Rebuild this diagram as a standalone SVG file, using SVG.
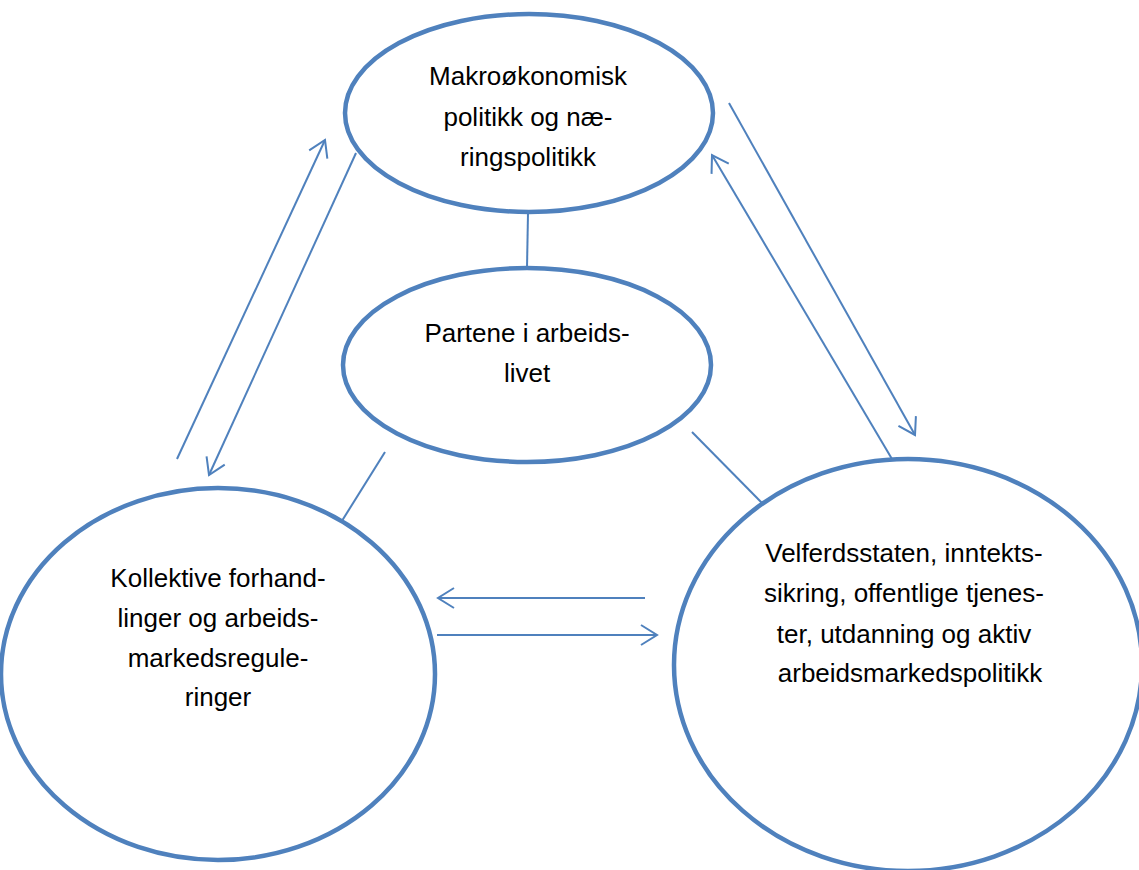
<svg xmlns="http://www.w3.org/2000/svg" width="1139" height="870" viewBox="0 0 1139 870">
<style>
.node{fill:#fff;stroke:#4F81BD;stroke-width:4.5}
.lbl{font-family:"Liberation Sans",Arial,sans-serif;font-size:26px;fill:#000;text-anchor:middle}
.conn line{stroke:#4F81BD;stroke-width:2;fill:none}
</style>
<defs>
<marker id="ah" viewBox="0 0 20 24" refX="18" refY="12" markerWidth="20" markerHeight="24" markerUnits="userSpaceOnUse" orient="auto">
<path d="M2,2 L18,12 L2,22" fill="none" stroke="#4F81BD" stroke-width="2"/>
</marker>
</defs>
<rect width="1139" height="870" fill="#fff"/>
<g id="connectors" class="conn">
<line x1="528" y1="213" x2="527" y2="268"/>
<line x1="385" y1="452" x2="340" y2="524"/>
<line x1="692" y1="432" x2="762" y2="503"/>
<line x1="177" y1="459" x2="325" y2="140" marker-end="url(#ah)"/>
<line x1="356" y1="153" x2="209" y2="475" marker-end="url(#ah)"/>
<line x1="729" y1="103" x2="915" y2="435" marker-end="url(#ah)"/>
<line x1="892" y1="459" x2="712" y2="155" marker-end="url(#ah)"/>
<line x1="645" y1="598" x2="438" y2="598" marker-end="url(#ah)"/>
<line x1="437" y1="635" x2="657" y2="635" marker-end="url(#ah)"/>
</g>
<g id="node-makro">
<ellipse class="node" cx="529" cy="113" rx="184" ry="99"/>
<text class="lbl" x="528" y="85">Makroøkonomisk</text>
<text class="lbl" x="528" y="126">politikk og næ-</text>
<text class="lbl" x="528" y="166">ringspolitikk</text>
</g>
<g id="node-partene">
<ellipse class="node" cx="527" cy="365" rx="184" ry="97"/>
<text class="lbl" x="527" y="342">Partene i arbeids-</text>
<text class="lbl" x="527" y="382">livet</text>
</g>
<g id="node-kollektive">
<ellipse class="node" cx="218" cy="674" rx="217" ry="186"/>
<text class="lbl" x="218" y="587">Kollektive forhand-</text>
<text class="lbl" x="218" y="627">linger og arbeids-</text>
<text class="lbl" x="218" y="667">markedsregule-</text>
<text class="lbl" x="218" y="706">ringer</text>
</g>
<g id="node-velferd">
<ellipse class="node" cx="908" cy="665" rx="234" ry="206"/>
<text class="lbl" x="904" y="562">Velferdsstaten, inntekts-</text>
<text class="lbl" x="904" y="602">sikring, offentlige tjenes-</text>
<text class="lbl" x="904" y="643">ter, utdanning og aktiv</text>
<text class="lbl" x="910" y="682">arbeidsmarkedspolitikk</text>
</g>
</svg>
